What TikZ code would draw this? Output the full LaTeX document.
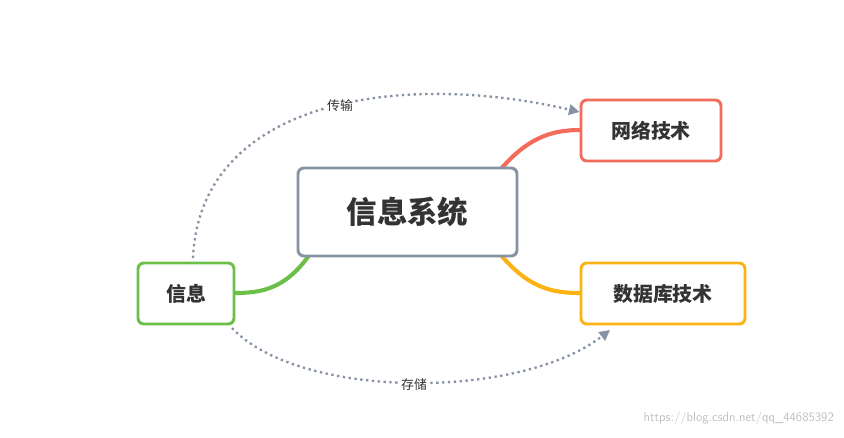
\documentclass[tikz,border=0pt]{standalone}
\usepackage{fontspec}
\newfontfamily\cjk{Noto Sans CJK SC}
\usetikzlibrary{positioning, arrows.meta}
\definecolor{hubgray}{HTML}{8793A5}
\definecolor{netred}{HTML}{F26B5B}
\definecolor{dborange}{HTML}{FBB314}
\definecolor{infogreen}{HTML}{6CC04A}
\tikzset{
	topic/.style={draw, line width=2.5pt, rounded corners=5pt, fill=white, text=black!80, font=\cjk\bfseries\fontsize{17}{20}\selectfont, minimum height=1.83cm, inner sep=0pt},
	branch/.style={line width=3.5pt, line cap=round},
	flow/.style={hubgray, line width=2pt, dash pattern=on 2pt off 3pt, -{Triangle[length=9pt,width=9pt]}},
	flowlabel/.style={fill=white, inner sep=1pt, text=black!80, font=\cjk\fontsize{11}{13}\selectfont}
}
\begin{document}
\begin{tikzpicture}[x=0.03cm, y=-0.03cm]
	\useasboundingbox (0,0) rectangle (844,437);
	% branches
	\draw[branch, netred] (500,170) .. controls (530,135) and (555,130) .. (581,130);
	\draw[branch, dborange] (500,254) .. controls (530,290) and (555,293) .. (581,293);
	\draw[branch, infogreen] (310,254) .. controls (285,290) and (260,293) .. (234,293);
	% topics
	\draw node (hub)[topic, draw=hubgray, minimum width=6.57cm, minimum height=2.64cm, font=\cjk\bfseries\fontsize{26}{30}\selectfont] at (407.5,212) {信息系统};
	\draw node (net)[topic, draw=netred, minimum width=4.2cm] at (651,130.5) {网络技术};
	\draw node (db)[topic, draw=dborange, minimum width=4.92cm] at (663,293.5) {数据库技术};
	\draw node (info)[topic, draw=infogreen, minimum width=2.88cm] at (186,293.5) {信息};
	% flows
	\coordinate (up) at (193,258);
	\coordinate (down) at (232,328);
	\draw[flow] (up) .. controls (200,100) and (400,70) .. (net.west |- 0,112) coordinate[pos=0.37] (tx);
	\node (txlabel)[flowlabel] at (340,106) {传输};
	\draw[flow] (down) .. controls (300,400) and (520,400) .. (610,330);
	\node (stlabel)[flowlabel] at (414,385) {存储};
	\node (mark)[text=black!25, font=\sffamily\fontsize{11}{13}\selectfont, anchor=east] at (838,418) {https://blog.csdn.net/qq\_44685392};
\end{tikzpicture}
\end{document}
